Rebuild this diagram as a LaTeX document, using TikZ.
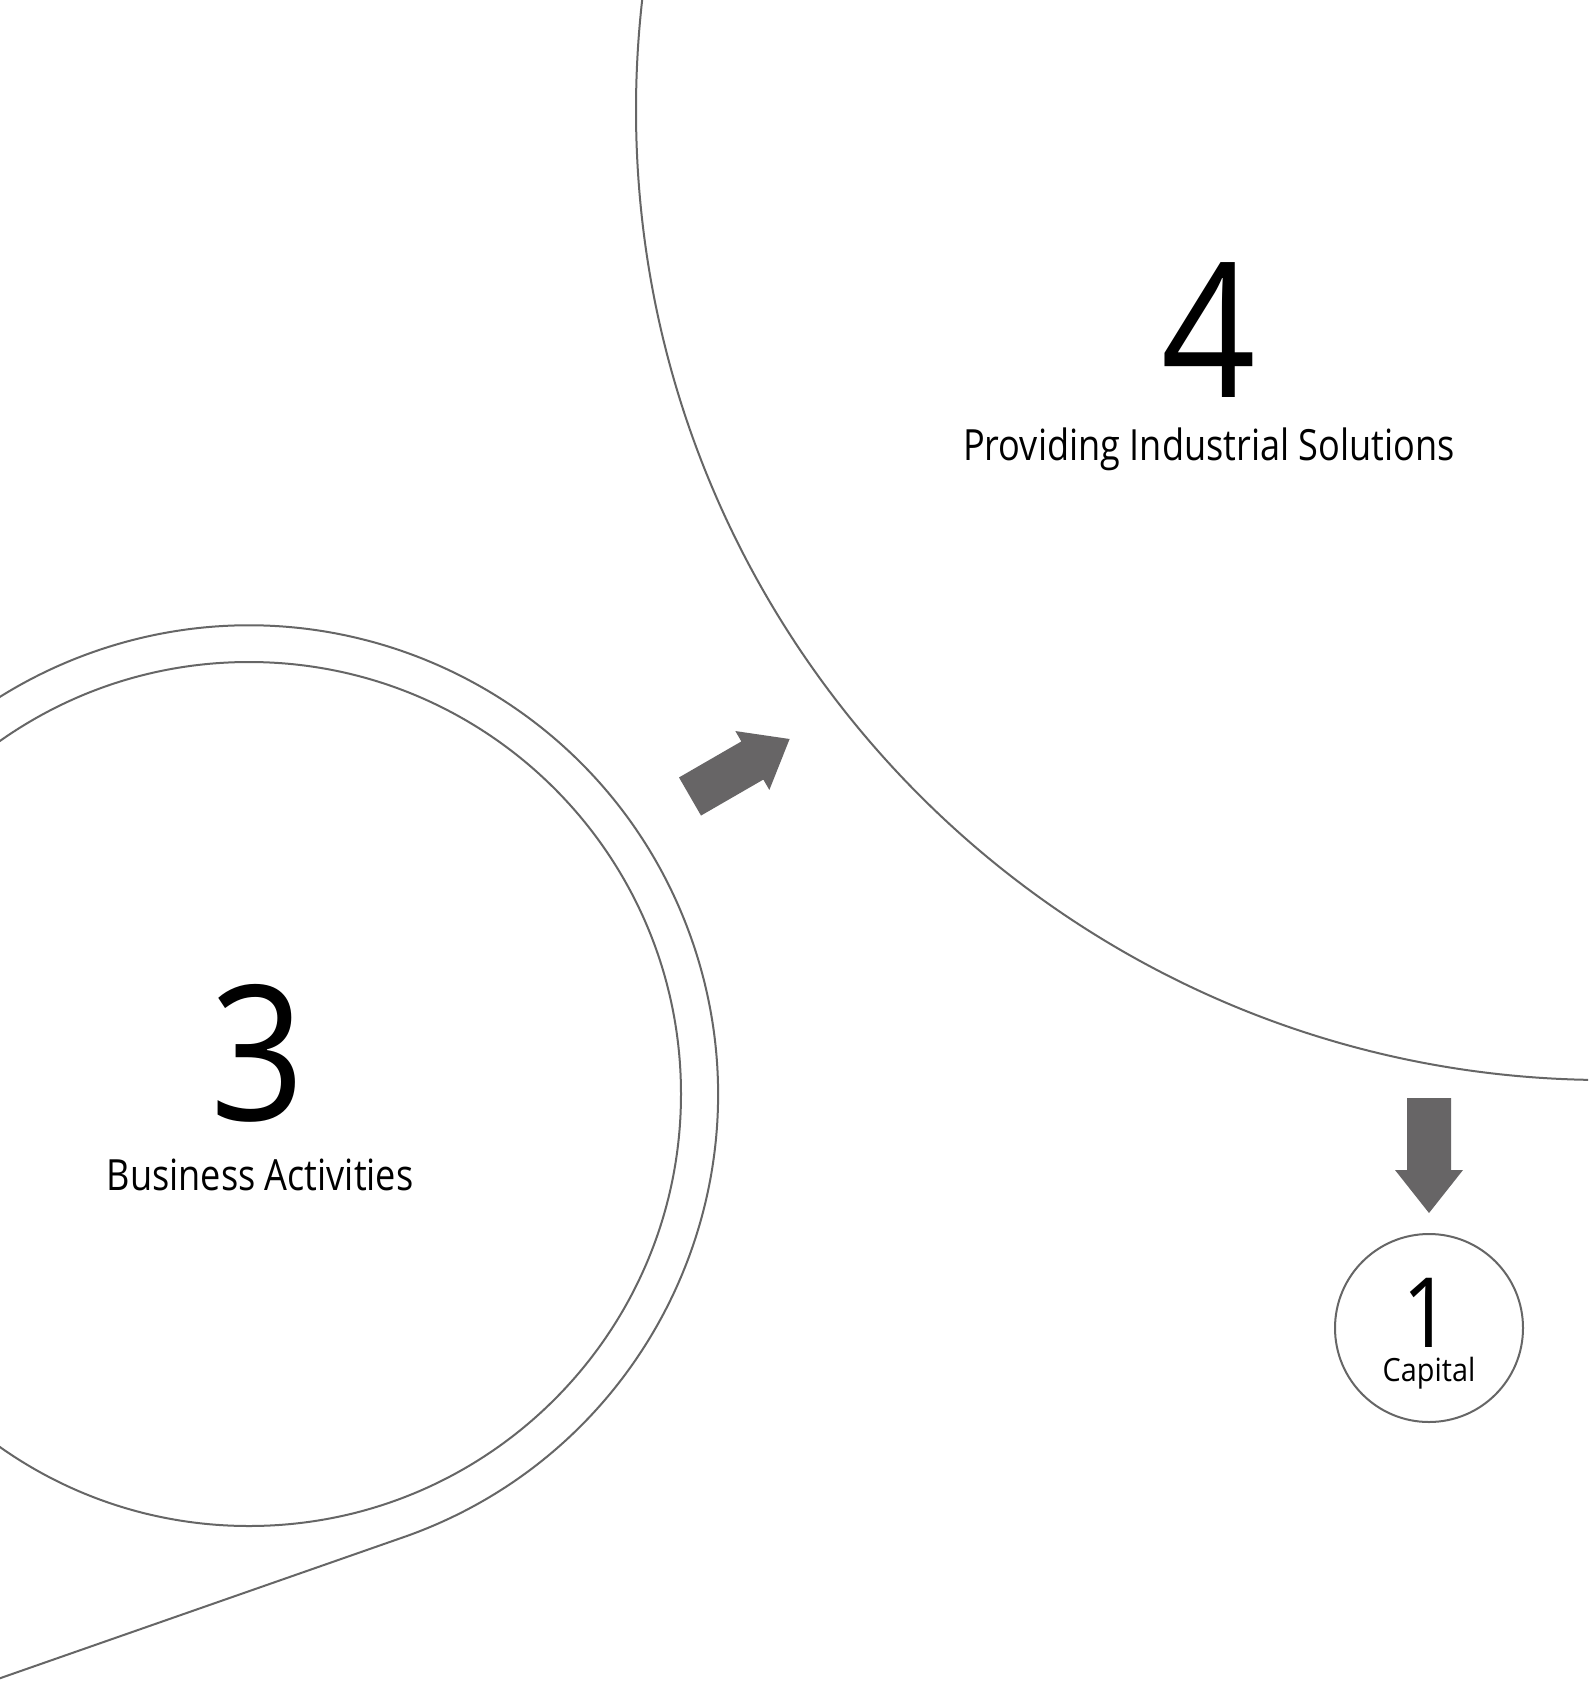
\documentclass[tikz,border=0pt]{standalone}
\usepackage{fontspec}
\setmainfont{Open Sans}
\newfontfamily\digitfont{Open Sans}[FakeStretch=0.88]
\newfontfamily\condA{Open Sans}[FakeStretch=0.84]
\newfontfamily\condC{Open Sans}[FakeStretch=0.9]
\definecolor{linegray}{HTML}{666666}
\definecolor{arrowgray}{HTML}{676566}
\tikzset{
  ring/.style={draw=linegray, line width=2pt, circle, inner sep=0pt, outer sep=0pt},
  outline/.style={draw=linegray, line width=2pt},
  blockarrow/.style={fill=arrowgray, draw=none},
  bignum/.style={inner sep=0pt, anchor=base, font=\digitfont\fontsize{188}{188}\selectfont},
  txt/.style={inner sep=0pt, anchor=base},
}
\begin{document}
\begin{tikzpicture}[x=1pt,y=-1pt]
\useasboundingbox (0,0) rectangle (1588,1685);
\fill[white] (0,0) rectangle (1588,1685);
\clip (0,0) rectangle (1588,1685);
% big circle 4
\node[ring, minimum size=1940pt] (c4) at (1606,110) {};
% circle 3, inner and teardrop outer
\node[ring, minimum size=864pt] (c3) at (249,1094) {};
\coordinate (tp) at (404,1537);
\coordinate (tip) at (-68,1702);
\draw[outline] (tip) -- (tp) arc[start angle=70.7, end angle=-230, radius=469];
% small circle 1
\node[ring, minimum size=188pt] (c1) at (1429,1328) {};
% arrows
\begin{scope}[shift={(690,796.5)}, rotate=30]
\fill[blockarrow] (0,-22) -- (72,-22) -- (72,-34) -- (115,0) -- (72,34) -- (72,22) -- (0,22) -- cycle;
\end{scope}
\begin{scope}[shift={(1429,1098)}, rotate=-90]
\fill[blockarrow] (0,-22) -- (72,-22) -- (72,-34) -- (115,0) -- (72,34) -- (72,22) -- (0,22) -- cycle;
\end{scope}
% texts
\node[bignum] (n4) at (1209,397) {4};
\node[txt, font=\condA\fontsize{43}{50}\selectfont] (t4) at (1209,460) {Providing Industrial Solutions};
\node[bignum] (n3) at (258,1120) {3};
\node[txt, font=\condA\fontsize{43}{50}\selectfont] (t3) at (260,1190) {Business Activities};
\node[txt, font=\digitfont\fontsize{97}{97}\selectfont] (n1) at (1427,1347) {1};
\node[txt, font=\condC\fontsize{32}{38}\selectfont] (t1) at (1429,1381) {Capital};
\end{tikzpicture}
\end{document}
